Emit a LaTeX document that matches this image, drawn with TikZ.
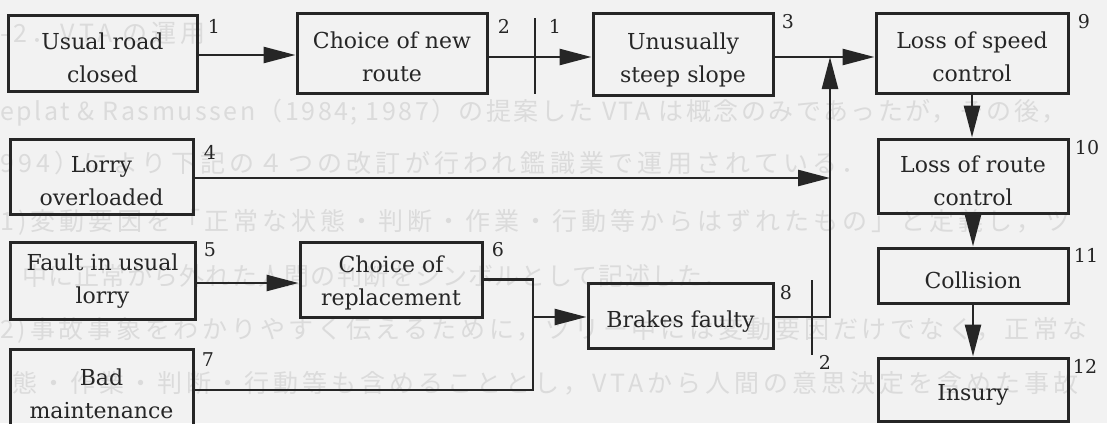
\documentclass[tikz,border=0pt]{standalone}
\usepackage{fontspec}
\setmainfont{DejaVu Serif}
\newfontfamily\jpfont{Noto Sans CJK JP}
\usetikzlibrary{arrows.meta}
\definecolor{bg}{RGB}{242,242,242}
\definecolor{ink}{RGB}{38,38,38}
\definecolor{ghost}{RGB}{219,219,219}
\tikzset{
  box/.style={draw=ink, line width=3pt, inner sep=0pt},
  txt/.style={font=\fontsize{22}{33}\selectfont, text=ink, align=center, inner sep=0pt},
  num/.style={font=\fontsize{19}{19}\selectfont, text=ink, inner sep=0pt},
  conn/.style={draw=ink, line width=2.6pt, -{Triangle[length=32pt,width=16pt]}},
  plain/.style={draw=ink, line width=2.6pt},
  tick/.style={draw=ink, line width=1.2pt},
  gh/.style={text=ghost, anchor=west, inner sep=0pt,
    font=\jpfont\fontsize{25}{25}\selectfont\addfontfeature{LetterSpace=#1}},
  gh/.default=17
}
\begin{document}
\begin{tikzpicture}[x=1pt,y=-1pt]
\fill[bg] (0,0) rectangle (1107,423);
\useasboundingbox (0,0) rectangle (1107,423);
\clip (0,0) rectangle (1107,423);
% faint text showing through the page
\node[gh] (g1) at (0,33) {-2．VTA の運用};
\node[gh=10] (g2) at (0,113) {eplat \& Rasmussen（1984; 1987）の提案した VTA は概念のみであったが，その後，};
\node[gh] (g3) at (0,163) {994）により下記の４つの改訂が行われ鑑識業で運用されている．};
\node[gh=16] (g4) at (0,222) {1)変動要因を「正常な状態・判断・作業・行動等からはずれたもの」と定義し，ツ};
\node[gh=5] (g5) at (22,276) {中に正常から外れた人間の判断をシンボルとして記述した．};
\node[gh=15] (g6) at (0,330) {2)事故事象をわかりやすく伝えるために，ツリー中には変動要因だけでなく，正常な};
\node[gh=16] (g7) at (12,383) {態・作業・判断・行動等も含めることとし，VTAから人間の意思決定を含めた事故};
% boxes
\node[box, minimum width=189pt, minimum height=76pt] (b1) at (102.5,53) {};
\node[box, minimum width=190pt, minimum height=80pt] (b2) at (392,53) {};
\node[box, minimum width=180pt, minimum height=82pt] (b3) at (683,54) {};
\node[box, minimum width=192pt, minimum height=80pt] (b9) at (972,53) {};
\node[box, minimum width=183pt, minimum height=75pt] (b4) at (101.5,176.5) {};
\node[box, minimum width=190pt, minimum height=74pt] (b10) at (973,176) {};
\node[box, minimum width=185pt, minimum height=77pt] (b5) at (102.5,280.5) {};
\node[box, minimum width=182pt, minimum height=75pt] (b6) at (391,279.5) {};
\node[box, minimum width=190pt, minimum height=55pt] (b11) at (973,275.5) {};
\node[box, minimum width=185pt, minimum height=65pt] (b8) at (680.5,315.5) {};
\node[box, minimum width=183pt, minimum height=82pt] (b7) at (101.5,390) {};
\node[box, minimum width=190pt, minimum height=63pt] (b12) at (973,389.5) {};
% box texts
\node[txt] (t1) at ([yshift=-4.5pt]b1.center) {Usual road\\closed};
\node[txt] (t2) at ([yshift=-4pt]b2.center) {Choice of new\\route};
\node[txt] (t3) at ([yshift=-5.5pt]b3.center) {Unusually\\steep slope};
\node[txt] (t9) at ([yshift=-4pt]b9.center) {Loss of speed\\control};
\node[txt] (t4) at ([yshift=-4.5pt]b4.center) {Lorry\\overloaded};
\node[txt] (t10) at ([yshift=-5pt]b10.center) {Loss of route\\control};
\node[txt] (t5) at ([yshift=-1pt]b5.center) {Fault in usual\\lorry};
\node[txt] (t6) at ([yshift=-3pt]b6.center) {Choice of\\replacement};
\node[txt] (t8) at ([yshift=-6.5pt]b8.center) {Brakes faulty};
\node[txt] (t11) at ([yshift=-4.5pt]b11.center) {Collision};
\node[txt] (t12) at ([yshift=-5.5pt]b12.center) {Insury};
\node[txt] (t7) at ([yshift=-4pt]b7.center) {Bad\\maintenance};
% numbers
\node[num] (n1) at (214,26) {1};
\node[num] (n2) at (504,26) {2};
\node[num] (n2b) at (555,26) {1};
\node[num] (n3) at (788,22) {3};
\node[num] (n9) at (1084,22) {9};
\node[num] (n4) at (210,152) {4};
\node[num] (n10) at (1087,148) {10};
\node[num] (n5) at (210,250) {5};
\node[num] (n6) at (498,250) {6};
\node[num] (n11) at (1086,255) {11};
\node[num] (n8) at (786,293) {8};
\node[num] (n7) at (208,360) {7};
\node[num] (n12) at (1085,366) {12};
\node[num] (n2c) at (825,362) {2};
% ticks
\coordinate (k1a) at (535,18);
\coordinate (k1b) at (535,94);
\coordinate (k2a) at (812,280);
\coordinate (k2b) at (812,355);
\draw[tick] (k1a) -- (k1b);
\draw[tick] (k2a) -- (k2b);
% junctions
\coordinate (jb) at (830,317);
\coordinate (jm) at (533,317);
\path ([yshift=-3pt]b3.east -| jb) coordinate (ja);
% connectors
\draw[conn] ([yshift=-2pt]b1.east) -- ([yshift=-2pt]b1.east -| b2.west);
\draw[conn] ([yshift=-4pt]b2.east) -- ([yshift=-4pt]b2.east -| b3.west);
\draw[conn] ([yshift=-3pt]b3.east) -- ([yshift=-3pt]b3.east -| b9.west);
\draw[conn] (jb -| b8.east) -- (jb) -- (ja);
\draw[conn] ([yshift=-1.5pt]b4.east) -- ([yshift=-1.5pt]b4.east -| jb);
\draw[conn] (b9.south) -- (b9.south |- b10.north);
\draw[conn] (b10.south) -- (b10.south |- b11.north);
\draw[conn] (b11.south) -- (b11.south |- b12.north);
\draw[conn] ([yshift=-2.5pt]b5.east) -- ([yshift=-2.5pt]b5.east -| b6.west);
\draw[plain] (b6.east) -| (jm |- b7.east) -- (b7.east);
\draw[conn] (jm) -- (jm -| b8.west);
\end{tikzpicture}
\end{document}
